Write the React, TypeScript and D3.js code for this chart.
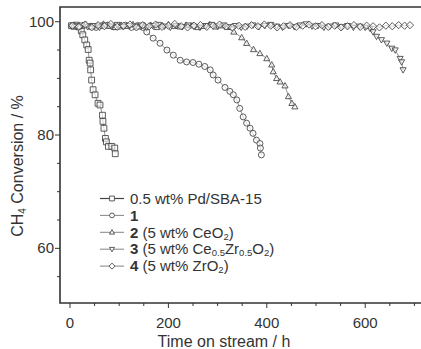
import { useEffect, useRef } from 'react'
import * as d3 from 'd3'

// time on stream (h), CH4 conversion (%)
const pdSba: [number, number][] = [
  [3, 99.3], [8, 99.2], [13, 99.4], [18, 99.1], [23, 98.4], [26, 97.7], [30, 96.8],
  [34, 95.9], [37, 95.1], [39, 93.2], [41, 92.7], [42, 91.5], [44, 89.7], [47, 88.0],
  [51, 87.1], [57, 85.6], [61, 85.3], [66, 83.5], [67, 82.4], [69, 81.2], [72, 79.4],
  [74, 78.8], [78, 78.0], [85, 78.0], [91, 77.7], [92, 76.7]
]

const cat1: [number, number][] = [
  [5, 99.3], [17, 99.1], [29, 99.4], [41, 99.2], [53, 99.0], [65, 99.3], [77, 99.4],
  [89, 99.1], [101, 99.2], [113, 99.4], [125, 99.0], [137, 99.3], [148, 99.0],
  [156, 98.2], [169, 97.1], [183, 96.2], [197, 95.0], [210, 94.1], [224, 93.2],
  [237, 92.9], [250, 92.8], [262, 92.5], [274, 92.1], [285, 91.5], [291, 90.6],
  [301, 89.7], [315, 88.4], [325, 87.7], [332, 87.1], [339, 86.2], [345, 84.7],
  [352, 83.2], [359, 82.1], [366, 81.2], [372, 80.3], [379, 79.1], [386, 78.5],
  [387, 77.7], [389, 76.5]
]

const cat2: [number, number][] = [
  [8, 99.4], [20, 99.2], [32, 99.5], [44, 99.1], [56, 99.3], [68, 99.6], [80, 99.2],
  [92, 99.0], [104, 99.4], [116, 99.2], [128, 99.5], [140, 99.1], [152, 99.3],
  [164, 99.4], [176, 99.0], [188, 99.3], [200, 99.5], [212, 99.2], [224, 99.1],
  [236, 99.4], [248, 99.3], [260, 99.0], [272, 99.2], [284, 99.5], [296, 99.1],
  [308, 99.3], [320, 99.0], [333, 98.2], [349, 97.2], [359, 96.2], [373, 95.1],
  [386, 94.4], [400, 93.5], [410, 92.4], [413, 91.2], [420, 90.0], [427, 89.4],
  [437, 88.7], [444, 86.8], [451, 85.6], [457, 85.0]
]

const cat3: [number, number][] = [
  [12, 99.2], [24, 99.4], [36, 99.1], [48, 99.3], [60, 99.0], [72, 99.4], [84, 99.2],
  [96, 99.5], [108, 99.1], [120, 99.3], [132, 99.2], [144, 99.4], [156, 99.0],
  [168, 99.3], [180, 99.5], [192, 99.2], [204, 99.0], [216, 99.3], [228, 99.1],
  [240, 99.4], [252, 99.2], [264, 99.0], [276, 99.3], [288, 99.5], [300, 99.2],
  [312, 99.4], [324, 99.1], [336, 99.3], [348, 99.0], [360, 99.2], [372, 99.4],
  [384, 99.1], [396, 99.3], [408, 99.5], [420, 99.2], [432, 99.0], [444, 99.3],
  [456, 99.1], [468, 99.4], [480, 99.6], [492, 99.2], [504, 99.3], [516, 99.0],
  [528, 99.2], [540, 99.4], [552, 99.1], [564, 99.3], [576, 99.0], [588, 99.2],
  [600, 99.0], [610, 98.8], [616, 98.2], [623, 97.4], [633, 96.8], [644, 96.2],
  [654, 95.3], [661, 95.0], [671, 93.5], [674, 92.9], [677, 91.5]
]

const cat4: [number, number][] = [
  [5, 99.3], [18, 99.1], [31, 99.5], [44, 99.0], [57, 99.4], [70, 99.2], [83, 99.6],
  [96, 99.1], [109, 99.3], [122, 99.5], [135, 99.0], [148, 99.4], [161, 99.2],
  [174, 99.5], [187, 99.1], [200, 99.3], [213, 99.6], [226, 99.2], [239, 99.0],
  [252, 99.3], [265, 99.4], [278, 99.1], [291, 99.3], [304, 99.5], [317, 99.2],
  [330, 99.0], [343, 99.3], [356, 99.1], [369, 99.4], [382, 99.2], [395, 99.5],
  [408, 99.3], [421, 99.0], [434, 99.2], [447, 99.4], [460, 99.1], [473, 99.3],
  [486, 99.5], [499, 99.2], [512, 99.4], [525, 99.1], [538, 99.3], [551, 99.0],
  [564, 99.2], [577, 99.4], [590, 99.1], [603, 99.3], [616, 99.2], [629, 99.0],
  [642, 99.3], [655, 99.2], [668, 99.4], [680, 99.3], [691, 99.4]
]

const xTicks = [0, 200, 400, 600]
const yTicks = [60, 80, 100]

type Marker = 'square' | 'circle' | 'up' | 'down' | 'diamond'

const seriesList: { data: [number, number][]; marker: Marker }[] = [
  { data: pdSba, marker: 'square' },
  { data: cat1, marker: 'circle' },
  { data: cat2, marker: 'up' },
  { data: cat3, marker: 'down' },
  { data: cat4, marker: 'diamond' }
]

const ink = '#4a4a4a'
const font = 'Liberation Sans, Arial, Helvetica, sans-serif'

function markerPath(m: Marker, s: number) {
  if (m === 'square') return `M${-s},${-s}h${2 * s}v${2 * s}h${-2 * s}Z`
  if (m === 'circle') return d3.symbol(d3.symbolCircle, Math.PI * s * s)() || ''
  if (m === 'up') return `M0,${-s * 1.1}L${s * 1.05},${s * 0.75}L${-s * 1.05},${s * 0.75}Z`
  if (m === 'down') return `M0,${s * 1.1}L${s * 1.05},${-s * 0.75}L${-s * 1.05},${-s * 0.75}Z`
  return `M0,${-s * 1.25}L${s * 1.25},0L0,${s * 1.25}L${-s * 1.25},0Z`
}

export default function App() {
  const svgRef = useRef<SVGSVGElement>(null)
  const width = 421
  const height = 349

  useEffect(() => {
    if (!svgRef.current) return
    const svg = d3.select(svgRef.current)
    svg.selectAll('*').remove()

    const left = 60, right = 421, top = 7, bottom = 303
    const x = d3.scaleLinear().domain([-20.3, 713.4]).range([left, right])
    const y = d3.scaleLinear().domain([50.35, 102.6]).range([bottom, top])

    // series
    const line = d3.line<[number, number]>().x(d => x(d[0])).y(d => y(d[1]))
    seriesList.forEach(s => {
      svg.append('path')
        .attr('d', line(s.data) || '')
        .style('fill', 'none')
        .style('stroke', '#777')
        .style('stroke-width', '0.8px')
    })
    seriesList.forEach(s => {
      svg.selectAll(null)
        .data(s.data)
        .enter()
        .append('path')
        .attr('transform', d => `translate(${x(d[0])},${y(d[1])})`)
        .attr('d', markerPath(s.marker, s.marker === 'circle' ? 3 : 2.9))
        .style('fill', 'white')
        .style('fill-opacity', 0.6)
        .style('stroke', ink)
        .style('stroke-width', '0.9px')
    })

    // frame
    svg.append('path')
      .attr('d', `M${right},${top}H${left}V${bottom}H${right}`)
      .style('fill', 'none')
      .style('stroke', '#333')
      .style('stroke-width', '1.6px')

    // x ticks
    d3.range(0, 701, 50).forEach(t => {
      const major = t % 200 === 0
      svg.append('line')
        .attr('x1', x(t)).attr('x2', x(t))
        .attr('y1', bottom).attr('y2', bottom + (major ? 5 : 3))
        .style('stroke', '#333').style('stroke-width', '1px')
    })
    xTicks.forEach(t => {
      svg.append('text')
        .attr('x', x(t)).attr('y', 328)
        .attr('text-anchor', 'middle')
        .style('font-family', font).style('font-size', '15px').style('fill', '#333')
        .text(t)
    })

    // y ticks
    d3.range(55, 101, 5).forEach(t => {
      const major = t % 20 === 0
      svg.append('line')
        .attr('x1', left - (major ? 5 : 3)).attr('x2', left)
        .attr('y1', y(t)).attr('y2', y(t))
        .style('stroke', '#333').style('stroke-width', '1px')
    })
    yTicks.forEach(t => {
      svg.append('text')
        .attr('x', left - 6).attr('y', y(t) + 5)
        .attr('text-anchor', 'end')
        .style('font-family', font).style('font-size', '15px').style('fill', '#333')
        .text(t)
    })

    // axis titles
    svg.append('text')
      .attr('x', 224).attr('y', 347)
      .attr('text-anchor', 'middle')
      .style('font-family', font).style('font-size', '16px').style('fill', '#333')
      .text('Time on stream / h')

    const yl = svg.append('text')
      .attr('transform', 'translate(23,166) rotate(-90)')
      .attr('text-anchor', 'middle')
      .style('font-family', font).style('font-size', '16px').style('fill', '#333')
    yl.append('tspan').text('CH')
    yl.append('tspan').attr('dy', 3).style('font-size', '10px').text('4')
    yl.append('tspan').attr('dy', -3).text(' Conversion / %')

    // legend
    const rows: { bold: string; parts: [string, boolean][] }[] = [
      { bold: '', parts: [['0.5 wt% Pd/SBA-15', false]] },
      { bold: '1', parts: [] },
      { bold: '2', parts: [[' (5 wt% CeO', false], ['2', true], [')', false]] },
      { bold: '3', parts: [[' (5 wt% Ce', false], ['0.5', true], ['Zr', false], ['0.5', true], ['O', false], ['2', true], [')', false]] },
      { bold: '4', parts: [[' (5 wt% ZrO', false], ['2', true], [')', false]] }
    ]
    rows.forEach((r, i) => {
      const cy = 198.5 + i * 16.9
      svg.append('line')
        .attr('x1', 100).attr('x2', 124).attr('y1', cy).attr('y2', cy)
        .style('stroke', i === 0 ? '#444' : '#777').style('stroke-width', i === 0 ? '1.2px' : '0.9px')
      svg.append('path')
        .attr('transform', `translate(112,${cy})`)
        .attr('d', markerPath(seriesList[i].marker, 2.4))
        .style('fill', 'white')
        .style('stroke', ink)
        .style('stroke-width', '0.9px')
      const tx = svg.append('text')
        .attr('x', 130).attr('y', cy + 5.2)
        .style('font-family', font).style('font-size', '15px').style('fill', '#333')
      if (r.bold) tx.append('tspan').style('font-weight', 'bold').text(r.bold)
      let sub = false
      r.parts.forEach(([s, isSub]) => {
        const dy = isSub && !sub ? 2 : !isSub && sub ? -2 : 0
        tx.append('tspan')
          .attr('dy', dy)
          .style('font-size', isSub ? '9.5px' : '15px')
          .text(s)
        sub = isSub
      })
    })
  }, [])

  return (
    <svg
      ref={svgRef}
      width={width}
      height={height}
      style={{ position: 'absolute', left: 0, top: 0, background: 'white' }}
    />
  )
}
